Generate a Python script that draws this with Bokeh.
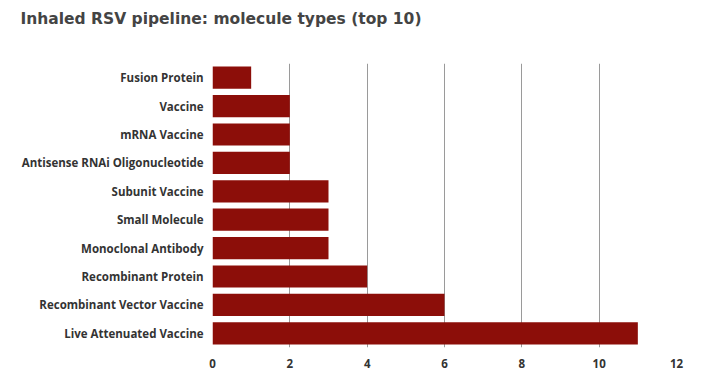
from bokeh.plotting import figure
from bokeh.models import FactorRange, Range1d, FixedTicker, ColumnDataSource, Title
from bokeh.embed import file_html
from bokeh.resources import INLINE

categories = ["Fusion Protein", "Vaccine", "mRNA Vaccine", "Antisense RNAi Oligonucleotide",
              "Subunit Vaccine", "Small Molecule", "Monoclonal Antibody", "Recombinant Protein",
              "Recombinant Vector Vaccine", "Live Attenuated Vaccine"]
counts = [1, 2, 2, 2, 3, 3, 3, 4, 6, 11]
x_ticks = [0, 2, 4, 6, 8, 10, 12]
title_text = "Inhaled RSV pipeline: molecule types (top 10)"

FONT = "Open Sans"
BAR = "#8c0e09"

src = ColumnDataSource(dict(cat=categories, n=counts))

p = figure(width=705, height=376, output_backend="svg", toolbar_location=None, title=None,
           y_range=FactorRange(*categories[::-1], range_padding=0),
           x_range=Range1d(0, 12),
           min_border_left=212, min_border_right=29, min_border_top=63, min_border_bottom=29)
p.hbar(y="cat", right="n", left=0, height=0.78, source=src, color=BAR, line_color=None)

# spacer (closest to the frame) then the real title (outermost)
p.add_layout(Title(text=" ", text_font_size="1px", standoff=22), "above")
p.add_layout(Title(text=title_text, text_font="DejaVu Sans", text_font_size="15.5px",
                   text_font_style="bold", text_color="#444444", align="left",
                   vertical_align="top", offset=-192, standoff=18), "above")

p.outline_line_color = None
p.ygrid.grid_line_color = None
p.xgrid.grid_line_color = "#9a9a9a"
p.xgrid.ticker = FixedTicker(ticks=x_ticks)
p.xaxis.ticker = FixedTicker(ticks=x_ticks)

for ax in (p.xaxis, p.yaxis):
    ax.axis_line_color = None
    ax.major_tick_line_color = None
    ax.minor_tick_line_color = None
    ax.major_label_text_font = FONT
    ax.major_label_text_font_style = "bold"
    ax.major_label_text_font_size = "11.5px"
    ax.major_label_text_color = "#333333"
p.xaxis.major_label_standoff = 5
p.yaxis.major_label_standoff = 3

open("out.html", "w").write(file_html(p, INLINE))
